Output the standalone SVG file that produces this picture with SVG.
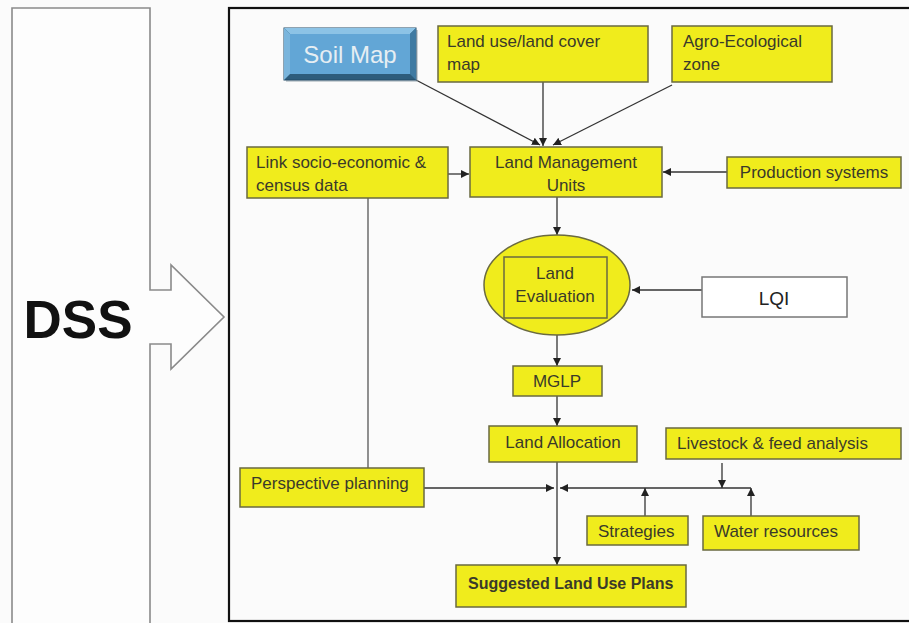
<svg xmlns="http://www.w3.org/2000/svg" width="909" height="623" viewBox="0 0 909 623">
<defs>
<style>
.box{fill:#f0ec1c;stroke:#6a6a40;stroke-width:1.5}
.t{font-family:"Liberation Sans",Arial,sans-serif;font-size:17px;fill:#3a3a2a}
.b{font-weight:bold;font-size:16px}
.c{stroke:#333;stroke-width:1.3;fill:none;marker-end:url(#ah)}
.n{stroke:#555;stroke-width:1.3;fill:none}
</style>
<marker id="ah" viewBox="0 0 10 10" refX="10" refY="5" markerWidth="8" markerHeight="8" markerUnits="userSpaceOnUse" orient="auto">
<path d="M0,0 L10,5 L0,10 z" fill="#222"/>
</marker>
</defs>
<rect width="909" height="623" fill="#fbfbfb"/>

<g id="dss">
<path d="M12,630 L12,8 L150,8 L150,290 L171,290 L171,265 L224,317 L171,369 L171,344 L150,344 L150,630" fill="#fdfdfd" stroke="#8a8a8a" stroke-width="1.6"/>
<text x="78" y="338" text-anchor="middle" font-family="'Liberation Sans',Arial,sans-serif" font-weight="bold" font-size="53" fill="#111">DSS</text>
</g>

<g id="frame">
<rect x="229" y="8" width="700" height="613" fill="none" stroke="#111" stroke-width="2.2"/>
</g>

<g id="connectors">
<line class="c" x1="416" y1="80" x2="540" y2="145"/>
<line class="c" x1="543" y1="82" x2="543" y2="146"/>
<line class="c" x1="672" y1="85" x2="553" y2="145"/>
<line class="c" x1="448" y1="174" x2="469" y2="174"/>
<line class="c" x1="727" y1="172" x2="663" y2="172"/>
<line class="n" x1="368" y1="198" x2="368" y2="468"/>
<line class="c" x1="557" y1="197" x2="557" y2="235"/>
<line class="c" x1="702" y1="290" x2="632" y2="290"/>
<line class="c" x1="557" y1="335" x2="557" y2="366"/>
<line class="c" x1="557" y1="396" x2="557" y2="426"/>
<line class="c" x1="557" y1="462" x2="557" y2="565"/>
<line class="c" x1="424" y1="488" x2="554" y2="488"/>
<line class="c" x1="751" y1="488" x2="560" y2="488"/>
<line class="c" x1="722" y1="463" x2="722" y2="488"/>
<line class="c" x1="645" y1="516" x2="645" y2="488"/>
<line class="c" x1="751" y1="516" x2="751" y2="488"/>
</g>

<g id="soil-map">
<rect x="286" y="30" width="132" height="52" fill="#9aa7b0" opacity="0.5"/>
<rect x="284" y="28" width="132" height="52" fill="#2d5c7c" stroke="#234a66" stroke-width="1"/>
<polygon points="284,28 416,28 410,34 290,34" fill="#8cc3e6"/>
<polygon points="284,28 290,34 290,74 284,80" fill="#7ab5dc"/>
<polygon points="416,28 416,80 410,74 410,34" fill="#3f7aa2"/>
<rect x="290" y="34" width="120" height="40" fill="#62a6d6"/>
<text x="350" y="63" text-anchor="middle" font-family="'Liberation Sans',Arial,sans-serif" font-size="24" fill="#e6eef3">Soil Map</text>
</g>

<g id="land-use">
<rect class="box" x="438" y="26" width="210" height="56"/>
<text class="t" x="447" y="47">Land use/land cover</text>
<text class="t" x="447" y="70">map</text>
</g>

<g id="agro">
<rect class="box" x="672" y="26" width="160" height="56"/>
<text class="t" x="683" y="47">Agro-Ecological</text>
<text class="t" x="683" y="70">zone</text>
</g>

<g id="link-socio">
<rect class="box" x="247" y="147" width="201" height="51"/>
<text class="t" x="256" y="168">Link socio-economic &amp;</text>
<text class="t" x="256" y="191">census data</text>
</g>

<g id="lmu">
<rect class="box" x="470" y="147" width="192" height="50"/>
<text class="t" x="566" y="168" text-anchor="middle">Land Management</text>
<text class="t" x="566" y="191" text-anchor="middle">Units</text>
</g>

<g id="production">
<rect class="box" x="727" y="157" width="174" height="31"/>
<text class="t" x="814" y="178" text-anchor="middle">Production systems</text>
</g>

<g id="land-evaluation">
<ellipse cx="557" cy="285" rx="73" ry="50" fill="#f0ec1c" stroke="#6a6a40" stroke-width="1.5"/>
<rect x="504" y="257" width="103" height="61" fill="none" stroke="#6a6a40" stroke-width="1.5"/>
<text class="t" x="555" y="279" text-anchor="middle">Land</text>
<text class="t" x="555" y="302" text-anchor="middle">Evaluation</text>
</g>

<g id="lqi">
<rect x="702" y="277" width="145" height="40" fill="#fff" stroke="#777" stroke-width="1.5"/>
<text x="774" y="305" text-anchor="middle" font-family="'Liberation Sans',Arial,sans-serif" font-size="19" fill="#222">LQI</text>
</g>

<g id="mglp">
<rect class="box" x="513" y="366" width="89" height="30"/>
<text class="t" x="557" y="387" text-anchor="middle">MGLP</text>
</g>

<g id="land-allocation">
<rect class="box" x="489" y="426" width="148" height="36"/>
<text class="t" x="563" y="448" text-anchor="middle">Land Allocation</text>
</g>

<g id="livestock">
<rect class="box" x="666" y="428" width="235" height="31"/>
<text class="t" x="677" y="449">Livestock &amp; feed analysis</text>
</g>

<g id="perspective">
<rect class="box" x="240" y="468" width="184" height="39"/>
<text class="t" x="251" y="489">Perspective planning</text>
</g>

<g id="strategies">
<rect class="box" x="587" y="516" width="101" height="29"/>
<text class="t" x="598" y="537">Strategies</text>
</g>

<g id="water">
<rect class="box" x="703" y="516" width="156" height="34"/>
<text class="t" x="714" y="537">Water resources</text>
</g>

<g id="suggested">
<rect class="box" x="456" y="565" width="230" height="42"/>
<text class="t b" x="468" y="589">Suggested Land Use Plans</text>
</g>
</svg>
